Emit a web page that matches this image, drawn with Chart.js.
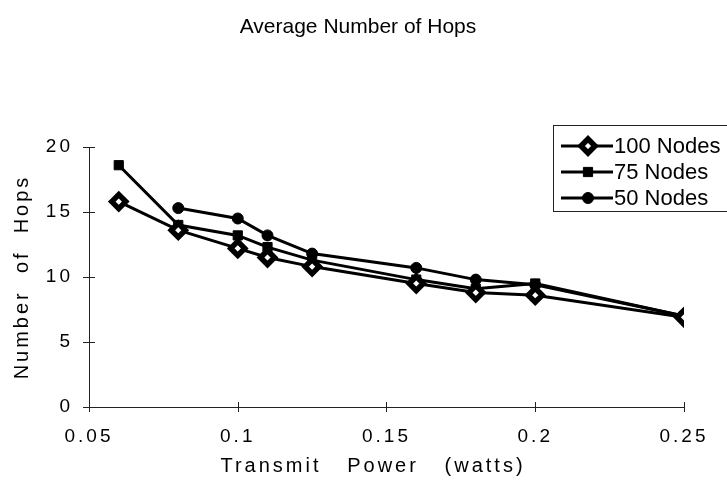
<!DOCTYPE html>
<html>
<head>
<meta charset="utf-8">
<title>Average Number of Hops</title>
<script src="https://cdn.jsdelivr.net/npm/chart.js@4/dist/chart.umd.min.js"></script>
<style>
  html, body { margin: 0; padding: 0; background: #fff; }
  #hopsChart { display: block; }
</style>
</head>
<body>
<canvas id="hopsChart" width="727" height="494"></canvas>
<script>
// transmit power (watts) at each measured point
const power = [0.06, 0.08, 0.1, 0.11, 0.125, 0.16, 0.18, 0.2, 0.25]
const power50 = [0.08, 0.1, 0.11, 0.125, 0.16, 0.18, 0.2, 0.25]

// average number of hops
const hops100 = [15.8, 13.6, 12.2, 11.5, 10.8, 9.5, 8.8, 8.6, 6.9]
const hops75 = [18.6, 14.0, 13.2, 12.3, 11.3, 9.8, 9.1, 9.5, 7.0]
const hops50 = [15.3, 14.5, 13.2, 11.8, 10.7, 9.8, 9.4, 7.0]

const seriesLabels = ['100 Nodes', '75 Nodes', '50 Nodes']
const xTicks = [0.05, 0.1, 0.15, 0.2, 0.25]
const yTicks = [0, 5, 10, 15, 20]

const FONT = '"Liberation Sans", Arial, Helvetica, sans-serif'

function pairs(xs, ys) {
    return xs.map((x, i) => ({x: x, y: ys[i]}))
}

function lineSet(label, data, style, radius, fill, border) {
    return {
        label: label,
        data: data,
        borderColor: '#000',
        borderWidth: 3,
        pointStyle: style,
        pointRadius: radius,
        pointHoverRadius: radius,
        pointBackgroundColor: fill,
        pointBorderColor: '#000',
        pointBorderWidth: border,
        tension: 0,
        fill: false
    }
}

// tick marks that cross the axis line on both sides
const crossTicks = {
    id: 'crossTicks',
    afterDraw(chart) {
        const ctx = chart.ctx
        const {x, y} = chart.scales
        ctx.save()
        ctx.strokeStyle = '#222'
        ctx.lineWidth = 1
        ctx.beginPath()
        xTicks.forEach(v => {
            const px = Math.round(x.getPixelForValue(v)) + 0.5
            ctx.moveTo(px, y.bottom - 5)
            ctx.lineTo(px, y.bottom + 5)
        })
        yTicks.forEach(v => {
            const py = Math.round(y.getPixelForValue(v)) + 0.5
            ctx.moveTo(x.left - 6, py)
            ctx.lineTo(x.left + 6, py)
        })
        ctx.stroke()
        ctx.restore()
    }
}

// chart title, x axis title and boxed legend
const titleAndLegend = {
    id: 'titleAndLegend',
    afterDraw(chart) {
        const ctx = chart.ctx
        ctx.save()
        ctx.fillStyle = '#000'
        ctx.textBaseline = 'middle'

        ctx.letterSpacing = '3px'
        ctx.font = '20px ' + FONT
        ctx.textAlign = 'left'
        const xTitle = 'Transmit   Power   (watts)'
        const w = ctx.measureText(xTitle).width
        ctx.fillText(xTitle, 373 - w / 2, 466)

        ctx.letterSpacing = '0px'
        ctx.font = '21px ' + FONT
        ctx.textAlign = 'center'
        ctx.fillText('Average Number of Hops', 358, 27)

        const box = {left: 553, top: 125, right: 731, bottom: 211}
        ctx.strokeStyle = '#222'
        ctx.lineWidth = 1
        ctx.strokeRect(box.left + 0.5, box.top + 0.5, box.right - box.left, box.bottom - box.top)

        ctx.font = '22px ' + FONT
        ctx.textAlign = 'left'
        chart.data.datasets.forEach((ds, i) => {
            const cy = 146 + i * 26
            ctx.strokeStyle = '#000'
            ctx.lineWidth = 3
            ctx.beginPath()
            ctx.moveTo(561, cy)
            ctx.lineTo(613, cy)
            ctx.stroke()
            ctx.fillStyle = ds.pointBackgroundColor
            ctx.strokeStyle = '#000'
            ctx.lineWidth = ds.pointBorderWidth
            Chart.helpers.drawPoint(ctx, {
                pointStyle: ds.pointStyle,
                radius: ds.pointRadius,
                rotation: 0,
                borderWidth: ds.pointBorderWidth
            }, 588, cy)
            ctx.fillStyle = '#000'
            ctx.fillText(ds.label, 614, cy + 1)
        })
        ctx.restore()
    }
}

const spacedText = {
    id: 'spacedText',
    beforeInit(chart) {
        chart.ctx.letterSpacing = '3px'
    },
    beforeDraw(chart) {
        chart.ctx.letterSpacing = '3px'
    }
}

const config = {
    type: 'line',
    data: {
        datasets: [
            lineSet(seriesLabels[0], pairs(power, hops100), 'rectRot', 7, '#fff', 5.5),
            lineSet(seriesLabels[1], pairs(power, hops75), 'rect', 6.5, '#000', 1),
            lineSet(seriesLabels[2], pairs(power50, hops50), 'circle', 5.5, '#000', 1)
        ]
    },
    options: {
        responsive: false,
        animation: false,
        devicePixelRatio: 1,
        layout: {padding: {top: 147, right: 43, left: 0, bottom: 0}},
        plugins: {
            legend: {display: false},
            title: {display: false},
            tooltip: {enabled: false}
        },
        scales: {
            x: {
                type: 'linear',
                min: 0.05,
                max: 0.25,
                afterFit: s => { s.height = 87 },
                afterBuildTicks: s => { s.ticks = xTicks.map(v => ({value: v})) },
                grid: {display: false},
                border: {display: true, color: '#222', width: 1},
                ticks: {
                    color: '#000',
                    font: {family: FONT, size: 19},
                    padding: 10,
                    maxRotation: 0,
                    callback: v => String(Math.round(v * 100) / 100)
                },
                title: {display: false}
            },
            y: {
                min: 0,
                max: 20,
                afterFit: s => { s.width = 89 },
                afterBuildTicks: s => { s.ticks = yTicks.map(v => ({value: v})) },
                grid: {display: false},
                border: {display: true, color: '#222', width: 1},
                ticks: {
                    color: '#000',
                    font: {family: FONT, size: 19},
                    padding: 8
                },
                title: {
                    display: true,
                    text: 'Number  of  Hops',
                    color: '#000',
                    font: {family: FONT, size: 20},
                    padding: {top: 10, bottom: 0}
                }
            }
        }
    },
    plugins: [spacedText, crossTicks, titleAndLegend]
}

new Chart(document.getElementById('hopsChart'), config)
</script>
</body>
</html>
